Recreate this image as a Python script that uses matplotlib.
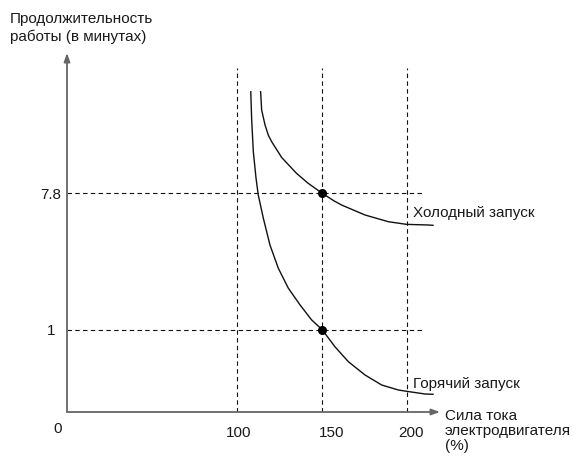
import numpy as np
import matplotlib
matplotlib.use("Agg")
import matplotlib.pyplot as plt
import matplotlib.transforms as mtransforms

plt.rcParams['font.family'] = ['Liberation Sans', 'DejaVu Sans']

# кривые (шкала по y нелинейная)
cold_x = [113.9, 114.5, 116.5, 118.4, 120.4, 126.3, 135.0, 141.9, 150.0,
          157.2, 161.6, 175.3, 189.0, 199.8, 212.5, 215.3]
cold_y = [17.38, 15.36, 13.80, 12.80, 12.16, 10.71, 9.36, 8.55, 7.80,
          7.22, 6.93, 6.25, 5.81, 5.64, 5.60, 5.58]
hot_x = [108.1, 108.6, 109.6, 111.2, 112.5, 115.5, 119.4, 124.3, 130.2, 137.1,
         143.9, 150.0, 157.6, 165.5, 175.3, 185.1, 194.9, 199.8, 210.6, 215.3]
hot_y = [17.38, 14.48, 11.23, 8.95, 7.66, 6.03, 4.41, 3.22, 2.35, 1.73,
         1.26, 1.00, 0.611, 0.353, 0.185, 0.0953, 0.0619, 0.0544, 0.0406, 0.0392]

# опорные точки и подписи
ref_x = [150, 150]
ref_y = [7.8, 1]
xticks = [100, 150, 200]
yticks = [1, 7.8]

PW = 0.475  # степень для шкалы y


def fwd(y):
    return np.power(np.clip(y, 0, None), PW)


def inv(y):
    return np.power(np.clip(y, 0, None), 1 / PW)


fig = plt.figure(figsize=(5.73, 4.59), dpi=100)
W, H = 573, 459
ax = fig.add_axes([67 / W, (H - 412) / H, (440 - 67) / W, (412 - 53) / H])
ax.set_yscale('function', functions=(fwd, inv))
ax.set_xlim(0, (440 - 67) / 1.70)
ax.set_ylim(0, inv(359 / 82.5))

for s in ax.spines.values():
    s.set_visible(False)

txt = '#1a1a1a'
dash = dict(color='#111111', lw=0.8, ls=(0, (4, 3)))

# вертикальные пунктиры
top = inv(344 / 82.5)
for xv in xticks:
    ax.plot([xv, xv], [0, top], **dash)
# горизонтальные пунктиры
for yv in yticks:
    ax.plot([0, 209.4], [yv, yv], **dash)

ax.plot(cold_x, cold_y, color='#111111', lw=1.0, solid_joinstyle='round')
ax.plot(hot_x, hot_y, color='#111111', lw=1.0, solid_joinstyle='round')
ax.plot(ref_x, ref_y, 'o', color='black', ms=5.5)

# оси со стрелками
ax_col = '#666666'
for tip in [(1, 0), (0, 1)]:
    ax.annotate('', xy=tip, xytext=(0, 0), xycoords='axes fraction',
                arrowprops=dict(arrowstyle='-|>,head_length=0.5,head_width=0.18',
                                color=ax_col, lw=1.3, shrinkA=0, shrinkB=0))

ax.set_xticks(xticks)
ax.set_xticklabels([str(v) for v in xticks])
ax.set_yticks(yticks)
ax.set_yticklabels(['1', '7.8'])
ax.tick_params(length=0, labelsize=11, colors=txt)
ax.tick_params(axis='x', pad=10)
ax.tick_params(axis='y', pad=11.5)
for lab in ax.get_yticklabels():
    lab.set_horizontalalignment('center')

# подписи по x в оригинале чуть сдвинуты вправо от линий
shift_px = [2, 10, 4]
for lab, dx in zip(ax.get_xticklabels(), shift_px):
    off = mtransforms.ScaledTranslation(dx / 100, 0, fig.dpi_scale_trans)
    lab.set_transform(lab.get_transform() + off)

ax.text(-0.025, -0.028, '0', transform=ax.transAxes, ha='center', va='top',
        fontsize=11, color=txt)

fig.text(10 / W, 1 - 28 / H, 'Продолжительность\nработы (в минутах)',
         ha='left', va='center', fontsize=11, color=txt, linespacing=1.3)
fig.text(445 / W, 1 - 431 / H, 'Сила тока\nэлектродвигателя\n(%)',
         ha='left', va='center', fontsize=11, color=txt, linespacing=1.1)
fig.text(413 / W, 1 - 213 / H, 'Холодный запуск', ha='left', va='center',
         fontsize=11, color=txt)
fig.text(413 / W, 1 - 384 / H, 'Горячий запуск', ha='left', va='center',
         fontsize=11, color=txt)

fig.savefig('out.png', dpi=100)
